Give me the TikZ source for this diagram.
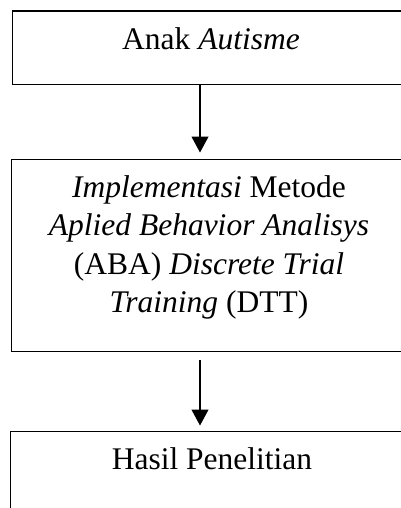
\documentclass[tikz,border=0pt]{standalone}
\usepackage{fontspec}
\setmainfont{Liberation Serif}
\usetikzlibrary{arrows.meta}
\tikzset{
  boxshape/.style={draw=black, line width=1.1pt, inner sep=0pt, anchor=north west},
  lbl/.style={inner sep=0pt, align=center, font=\fontsize{31.5}{38.5}\selectfont},
  flow/.style={draw=black, line width=1.1pt, -{Triangle[width=17pt,length=16pt]}}
}
\begin{document}
\begin{tikzpicture}[x=1pt,y=-1pt]
\useasboundingbox (0,0) rectangle (401,508);
\clip (0,0) rectangle (401,508);
% boxes
\node[boxshape, minimum width=398pt, minimum height=73.5pt] (b1) at (12,10.5) {};
\node[boxshape, minimum width=399pt, minimum height=192pt] (b2) at (11,158.5) {};
\node[boxshape, minimum width=400pt, minimum height=100pt] (b3) at (10,431) {};
% texts
\node[lbl, anchor=base] (t1) at (211,50) {Anak \textit{Autisme}};
\node[lbl] (t2) at (209,247.5) {\textit{Implementasi} Metode\\\textit{Aplied Behavior Analisys}\\(ABA) \textit{Discrete Trial}\\\textit{Training} (DTT)};
\node[lbl, anchor=base] (t3) at (212,469.5) {Hasil Penelitian};
% connectors
\coordinate (a1s) at (200,84);
\coordinate (a1e) at (200,152.5);
\coordinate (a2s) at (200,360);
\coordinate (a2e) at (200,425.5);
\draw[flow] (a1s) -- (a1e);
\draw[flow] (a2s) -- (a2e);
\end{tikzpicture}
\end{document}
